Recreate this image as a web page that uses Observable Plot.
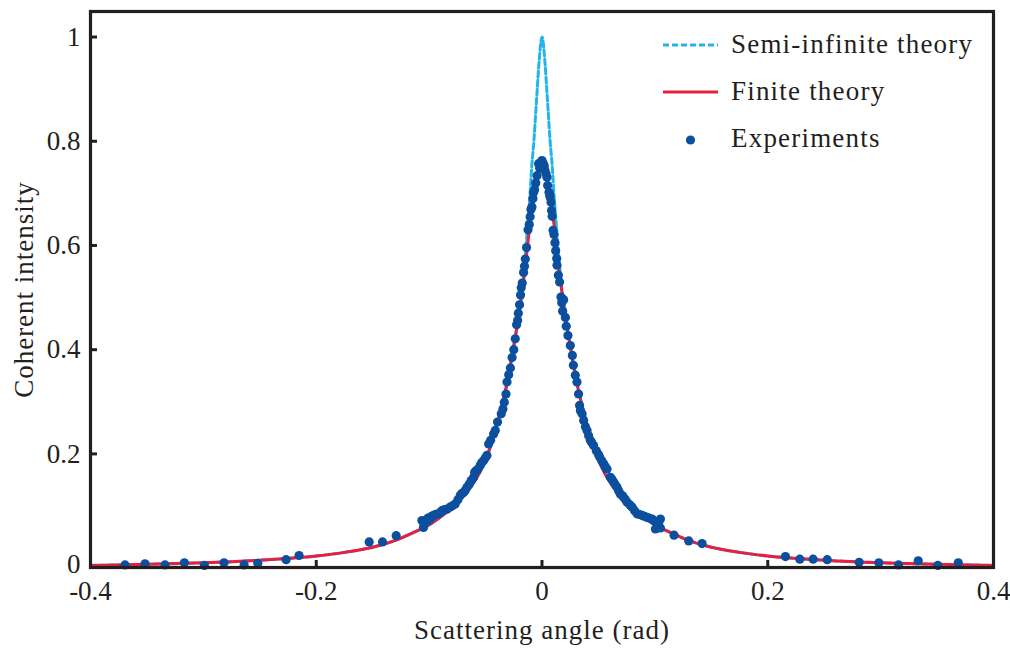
<!DOCTYPE html>
<html>
<head>
<meta charset="utf-8">
<script src="https://cdn.jsdelivr.net/npm/d3@7"></script>
<script src="https://cdn.jsdelivr.net/npm/@observablehq/plot@0.6"></script>
<style>
  body { margin: 0; background: #fff; }
  #chart { width: 1010px; height: 648px; }
</style>
</head>
<body>
<div id="chart"></div>
<script>
// Finite-thickness theory curve (scattering angle in rad, coherent intensity)
const finiteAngle = [-0.4, -0.35, -0.3, -0.25, -0.2, -0.175, -0.15, -0.13, -0.115, -0.1, -0.09, -0.08, -0.07, -0.062, -0.055, -0.048, -0.042, -0.037, -0.032, -0.028, -0.024, -0.021, -0.018, -0.015, -0.012, -0.009, -0.006, -0.003, 0,
  0.003, 0.006, 0.009, 0.012, 0.015, 0.018, 0.021, 0.024, 0.028, 0.032, 0.037, 0.042, 0.048, 0.055, 0.062, 0.07, 0.08, 0.09, 0.1, 0.115, 0.13, 0.15, 0.175, 0.2, 0.25, 0.3, 0.35, 0.4];
const finiteIntensity = [-0.014, -0.012, -0.009, -0.004, 0.004, 0.011, 0.021, 0.034, 0.048, 0.064, 0.079, 0.096, 0.118, 0.14, 0.165, 0.2, 0.24, 0.28, 0.325, 0.37, 0.42, 0.46, 0.505, 0.555, 0.615, 0.668, 0.705, 0.745, 0.762,
  0.745, 0.705, 0.668, 0.615, 0.555, 0.505, 0.46, 0.42, 0.37, 0.325, 0.28, 0.24, 0.2, 0.165, 0.14, 0.118, 0.096, 0.079, 0.064, 0.048, 0.034, 0.021, 0.011, 0.004, -0.004, -0.009, -0.012, -0.014];

// Semi-infinite medium theory curve: same tails, sharp cusp reaching 1 at zero angle
const semiAngle = [-0.4, -0.35, -0.3, -0.25, -0.2, -0.175, -0.15, -0.13, -0.115, -0.1, -0.09, -0.08, -0.07, -0.062, -0.055, -0.048, -0.042, -0.037, -0.032, -0.028, -0.024, -0.021, -0.018, -0.015, -0.0125, -0.0106, -0.0089, -0.0071, -0.0056, -0.0041, -0.0027, 0,
  0.0027, 0.0041, 0.0056, 0.0071, 0.0089, 0.0106, 0.0125, 0.015, 0.018, 0.021, 0.024, 0.028, 0.032, 0.037, 0.042, 0.048, 0.055, 0.062, 0.07, 0.08, 0.09, 0.1, 0.115, 0.13, 0.15, 0.175, 0.2, 0.25, 0.3, 0.35, 0.4];
const semiIntensity = [-0.014, -0.012, -0.009, -0.004, 0.004, 0.011, 0.021, 0.034, 0.048, 0.064, 0.079, 0.096, 0.118, 0.14, 0.165, 0.2, 0.24, 0.28, 0.325, 0.37, 0.42, 0.46, 0.508, 0.575, 0.645, 0.699, 0.757, 0.802, 0.853, 0.904, 0.949, 1.0,
  0.949, 0.904, 0.853, 0.802, 0.757, 0.699, 0.645, 0.575, 0.508, 0.46, 0.42, 0.37, 0.325, 0.28, 0.24, 0.2, 0.165, 0.14, 0.118, 0.096, 0.079, 0.064, 0.048, 0.034, 0.021, 0.011, 0.004, -0.004, -0.009, -0.012, -0.014];

// Measured coherent intensity
const expAngle = [-0.3694, -0.3517, -0.334, -0.3168, -0.2991, -0.2817, -0.2639, -0.2518, -0.2267, -0.2152, -0.1531, -0.1413, -0.1292,
  -0.1064, -0.105, -0.1045, -0.1035, -0.102, -0.101, -0.099, -0.098, -0.0961, -0.094, -0.0917, -0.09, -0.0887, -0.0865, -0.0842, -0.0813, -0.079, -0.0769, -0.0745, -0.0724, -0.071, -0.0695, -0.068, -0.0665, -0.0645, -0.0627, -0.0606, -0.0597, -0.058, -0.0567, -0.0547, -0.0535, -0.0518, -0.0503, -0.0488, -0.0473, -0.0455, -0.0429, -0.0414, -0.0394, -0.0361, -0.0346, -0.0334, -0.0319, -0.031, -0.0295, -0.028, -0.0265, -0.025, -0.0237, -0.0225, -0.0216, -0.021, -0.0199, -0.019, -0.0184, -0.0175, -0.0163, -0.0155, -0.0148, -0.0137, -0.0124, -0.0113, -0.0105, -0.0098, -0.0089, -0.008, -0.0074, -0.0066, -0.0055, -0.0044, -0.003, -0.002, -0.0015,
  0, 0.001, 0.002, 0.0025,
  0.0035, 0.0044, 0.005, 0.0062, 0.0068, 0.0071, 0.008, 0.0085, 0.009, 0.0098, 0.0106, 0.0115, 0.0121, 0.013, 0.0133, 0.0145, 0.0156, 0.0168, 0.0175, 0.0183, 0.0192, 0.0207, 0.0215, 0.023, 0.0251, 0.0269, 0.0278, 0.0295, 0.031, 0.0324, 0.0333, 0.034, 0.0355, 0.0369, 0.0385, 0.0399, 0.0413, 0.0428, 0.044, 0.0457, 0.0481, 0.05, 0.0511, 0.053, 0.0546, 0.056, 0.0576, 0.0606, 0.062, 0.0635, 0.065, 0.0665, 0.068, 0.0694, 0.071, 0.0723, 0.074, 0.0754, 0.078, 0.0798, 0.082, 0.0842, 0.086, 0.0887, 0.091, 0.0931, 0.095, 0.0975, 0.099, 0.1005, 0.1019, 0.103, 0.1035, 0.1049, 0.1049, 0.117, 0.13, 0.1418,
  0.2157, 0.2284, 0.2402, 0.2527, 0.281, 0.2984, 0.3159, 0.3333, 0.3507, 0.3688];
const expIntensity = [-0.013, -0.011, -0.013, -0.009, -0.014, -0.009, -0.013, -0.01, -0.003, 0.005, 0.031, 0.031, 0.043,
  0.072, 0.059, 0.066, 0.072, 0.07, 0.077, 0.075, 0.08, 0.082, 0.084, 0.085, 0.088, 0.091, 0.093, 0.094, 0.098, 0.101, 0.104, 0.112, 0.12, 0.124, 0.126, 0.13, 0.136, 0.142, 0.149, 0.155, 0.165, 0.168, 0.171, 0.178, 0.183, 0.187, 0.192, 0.197, 0.219, 0.226, 0.238, 0.245, 0.261, 0.277, 0.286, 0.299, 0.315, 0.338, 0.352, 0.365, 0.385, 0.4, 0.421, 0.448, 0.456, 0.47, 0.486, 0.505, 0.519, 0.528, 0.548, 0.56, 0.574, 0.596, 0.63, 0.64, 0.655, 0.669, 0.674, 0.69, 0.702, 0.707, 0.72, 0.734, 0.757, 0.748, 0.75,
  0.763, 0.758, 0.753, 0.745,
  0.738, 0.731, 0.715, 0.702, 0.698, 0.693, 0.683, 0.667, 0.656, 0.629, 0.621, 0.605, 0.59, 0.575, 0.562, 0.543, 0.53, 0.501, 0.49, 0.474, 0.496, 0.462, 0.445, 0.427, 0.408, 0.389, 0.37, 0.351, 0.338, 0.315, 0.293, 0.283, 0.277, 0.264, 0.252, 0.245, 0.235, 0.226, 0.222, 0.216, 0.206, 0.199, 0.194, 0.187, 0.181, 0.176, 0.171, 0.155, 0.151, 0.146, 0.141, 0.136, 0.129, 0.123, 0.12, 0.117, 0.112, 0.107, 0.102, 0.098, 0.091, 0.085, 0.084, 0.082, 0.08, 0.078, 0.077, 0.075, 0.072, 0.056, 0.066, 0.063, 0.07, 0.075, 0.058, 0.044, 0.033, 0.028,
  0.003, -0.002, -0.002, -0.003, -0.008, -0.009, -0.013, -0.005, -0.014, -0.009];

const xTicks = [-0.4, -0.2, 0, 0.2, 0.4];
const yTicks = [0.2, 0.4, 0.6, 0.8, 1];
const xDomain = [-0.4, 0.4];
const yDomain = [-0.018, 1.049];
const xLabel = "Scattering angle (rad)";
const yLabel = "Coherent intensity";
const legendLabels = ["Semi-infinite theory", "Finite theory", "Experiments"];

const ink = "#231f20";
const cyan = "#22b5e9";
const red = "#e6203f";
const blue = "#0b4f9e";

const finite = finiteAngle.map((a, i) => ({angle: a, intensity: finiteIntensity[i]}));
const semi = semiAngle.map((a, i) => ({angle: a, intensity: semiIntensity[i]}));
const experiments = expAngle.map((a, i) => ({angle: a, intensity: expIntensity[i]}));

// Legend drawn in the upper right corner of the frame
function legend(index, scales, values, dims) {
  const g = d3.create("svg:g")
    .attr("font-size", 27)
    .attr("letter-spacing", "1.2px")
    .attr("text-anchor", "start")
    .attr("fill", ink);
  const right = dims.width - dims.marginRight;
  const x0 = right - 330, x1 = right - 275, tx = right - 262;
  legendLabels.forEach((label, i) => {
    const cy = dims.marginTop + 34 + i * 47;
    if (i === 0) {
      g.append("line").attr("x1", x0).attr("x2", x1).attr("y1", cy).attr("y2", cy)
        .attr("stroke", cyan).attr("stroke-width", 3).attr("stroke-dasharray", "6,3");
    } else if (i === 1) {
      g.append("line").attr("x1", x0).attr("x2", x1).attr("y1", cy).attr("y2", cy)
        .attr("stroke", red).attr("stroke-width", 3);
    } else {
      g.append("circle").attr("cx", (x0 + x1) / 2).attr("cy", cy + 1).attr("r", 4.6).attr("fill", blue);
    }
    g.append("text").attr("x", tx).attr("y", cy).attr("dy", "0.3em").text(label);
  });
  return g.node();
}

const chart = Plot.plot({
  width: 1010,
  height: 648,
  marginLeft: 90,
  marginRight: 17,
  marginTop: 11,
  marginBottom: 81,
  style: {fontFamily: "'Liberation Serif', serif", fontSize: "27px", color: ink, background: "#fff"},
  x: {domain: xDomain},
  y: {domain: yDomain},
  marks: [
    Plot.line(semi, {x: "angle", y: "intensity", stroke: cyan, strokeWidth: 3, strokeDasharray: "6,3", curve: "monotone-x"}),
    Plot.line(finite, {x: "angle", y: "intensity", stroke: red, strokeWidth: 3, curve: "monotone-x"}),
    Plot.dot(experiments, {x: "angle", y: "intensity", r: 4.6, fill: blue}),
    Plot.tickX(xTicks, {x: d => d, insetTop: 549, stroke: ink, strokeWidth: 3, strokeOpacity: 1}),
    Plot.tickY(yTicks, {y: d => d, insetRight: 896, stroke: ink, strokeWidth: 3, strokeOpacity: 1}),
    Plot.axisX(xTicks, {tickSize: 0, tickPadding: 13, tickFormat: d => String(d), label: null, fill: ink}),
    Plot.axisY(yTicks, {tickSize: 0, tickPadding: 10, tickFormat: d => String(d), label: null, fill: ink}),
    Plot.text(["0"], {frameAnchor: "bottom-left", lineAnchor: "middle", dx: -10, dy: -3, textAnchor: "end", fill: ink}),
    Plot.text([xLabel], {frameAnchor: "bottom", lineAnchor: "middle", dy: 63, fill: ink}),
    Plot.text([yLabel], {frameAnchor: "left", textAnchor: "middle", lineAnchor: "middle", dx: -66, rotate: -90, fill: ink}),
    Plot.frame({stroke: ink, strokeWidth: 3.2, strokeOpacity: 1}),
    legend
  ]
});

const svg = d3.select(chart);
svg.selectAll("text")
  .filter(function () { return this.textContent === xLabel || this.textContent === yLabel; })
  .attr("letter-spacing", "1px");
// Heavy black box round the plotting area
svg.selectAll("[aria-label=frame] rect, rect[aria-label=frame]")
  .attr("stroke-width", 3.2).attr("stroke", ink);

document.getElementById("chart").append(chart);
</script>
</body>
</html>
